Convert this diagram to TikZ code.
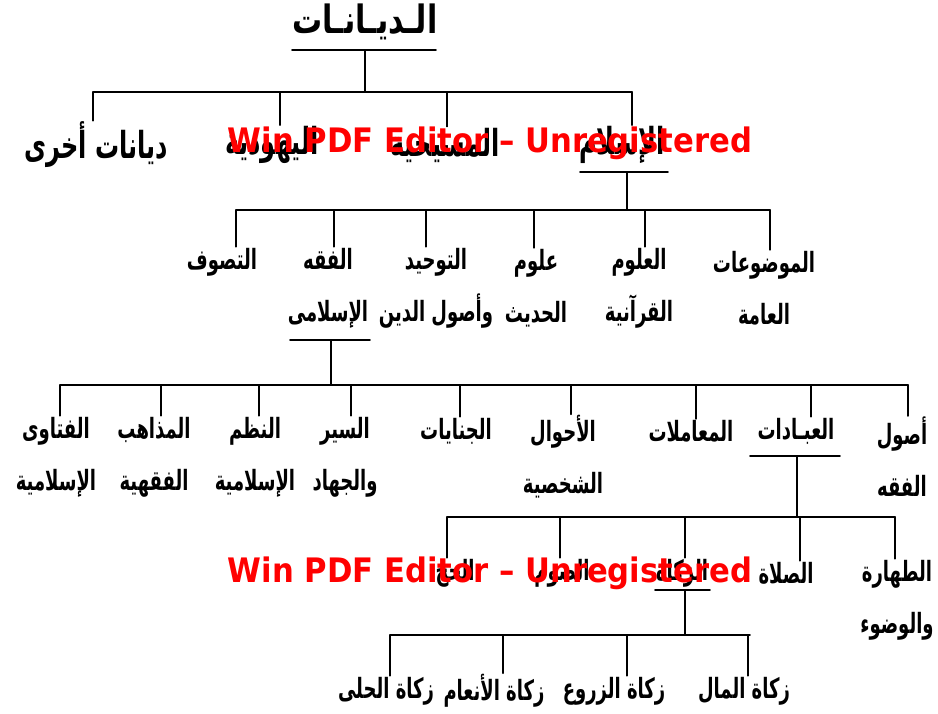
\documentclass[tikz,border=0pt]{standalone}
\usepackage{fontspec}
\newfontfamily\arabicfont[Script=Arabic]{DejaVu Sans}
\newfontfamily\wmfont{DejaVu Sans}
\TeXXeTstate=1
\newcommand\artx[1]{\scalebox{1}[1.55]{\beginR #1\endR}}
\begin{document}
\begin{tikzpicture}[x=1pt,y=-1pt,
  lab/.style={font=\arabicfont\bfseries\fontsize{18}{52}\selectfont, inner sep=1pt, align=center},
  lab1/.style={font=\arabicfont\bfseries\fontsize{24}{30}\selectfont, inner sep=1pt},
  ttl/.style={font=\arabicfont\bfseries\fontsize{30}{36}\selectfont, inner sep=1pt},
  ln/.style={line width=1.6pt, line cap=round},
  wm/.style={text=red, font=\wmfont\bfseries\fontsize{27}{30}\selectfont, inner sep=0pt}]
\useasboundingbox (0,0) rectangle (938,713);

% level 0
\node[ttl] (root) at (365,22) {\scalebox{1}[1.3]{\beginR الـديـانـات\endR}};
\coordinate (r1) at (292,50); \coordinate (r2) at (436,50);
\coordinate (rm) at (365,50); \coordinate (rb) at (365,92);
\coordinate (b0l) at (93,92); \coordinate (b0r) at (632,92);
\draw[ln] (r1) -- (r2);
\draw[ln] (rm) -- (rb);
\draw[ln] (b0l) -- (b0r);

% level 1
\node[lab1] (other) at (96,145) {\artx{ديانات أخرى}};
\node[lab1] (yahud) at (272,145) {\artx{اليهودية}};
\node[lab1] (masih) at (445,145) {\artx{المسيحية}};
\node[lab1] (islam) at (622,145) {\artx{الإسلام}};
\foreach \xx/\nn in {93/other,280/yahud,447/masih,632/islam}
  \draw[ln] (\xx,92) -- (\xx,0 |- \nn.north);

\coordinate (i1) at (580,172); \coordinate (i2) at (668,172);
\coordinate (im) at (627,172); \coordinate (ib) at (627,210);
\draw[ln] (i1) -- (i2);
\draw[ln] (im) -- (ib);
\coordinate (b1l) at (236,210); \coordinate (b1r) at (770,210);
\draw[ln] (b1l) -- (b1r);

% level 2
\node[lab] (mawd) at (764,288) {\artx{الموضوعات}\\\artx{العامة}};
\node[lab] (qur) at (639,288) {\artx{العلوم}\\\artx{القرآنية}};
\node[lab] (had) at (536,288) {\artx{علوم}\\\artx{الحديث}};
\node[lab] (taw) at (436,288) {\artx{التوحيد}\\\artx{وأصول الدين}};
\node[lab] (fiqh) at (328,288) {\artx{الفقه}\\\artx{الإسلامى}};
\node[lab] (tas) at (222,262) {\artx{التصوف}};
\foreach \xx/\nn in {770/mawd,645/qur,534/had,426/taw,334/fiqh,236/tas}
  \draw[ln] (\xx,210) -- (\xx,0 |- \nn.north);

\coordinate (f1) at (290,340); \coordinate (f2) at (370,340);
\coordinate (fm) at (331,340); \coordinate (fb) at (331,385);
\draw[ln] (f1) -- (f2);
\draw[ln] (fm) -- (fb);
\coordinate (b2l) at (60,385); \coordinate (b2r) at (908,385);
\draw[ln] (b2l) -- (b2r);

% level 3
\node[lab] (usul) at (902,457) {\artx{أصول}\\\artx{الفقه}};
\node[lab] (ibad) at (796,431) {\artx{العبـادات}};
\node[lab] (muam) at (691,431) {\artx{المعاملات}};
\node[lab] (ahwal) at (563,457) {\artx{الأحوال}\\\artx{الشخصية}};
\node[lab] (jin) at (456,431) {\artx{الجنايات}};
\node[lab] (siyar) at (345,457) {\artx{السير}\\\artx{والجهاد}};
\node[lab] (nuzum) at (255,457) {\artx{النظم}\\\artx{الإسلامية}};
\node[lab] (madh) at (154,457) {\artx{المذاهب}\\\artx{الفقهية}};
\node[lab] (fat) at (56,457) {\artx{الفتاوى}\\\artx{الإسلامية}};
\foreach \xx/\nn in {908/usul,811/ibad,696/muam,571/ahwal,460/jin,351/siyar,259/nuzum,161/madh,60/fat}
  \draw[ln] (\xx,385) -- (\xx,0 |- \nn.north);

\coordinate (a1) at (750,456); \coordinate (a2) at (840,456);
\coordinate (am) at (797,456); \coordinate (ab) at (797,517);
\draw[ln] (a1) -- (a2);
\draw[ln] (am) -- (ab);
\coordinate (b3l) at (447,517); \coordinate (b3r) at (895,517);
\draw[ln] (b3l) -- (b3r);

% level 4
\node[lab] (tah) at (897,600) {\artx{الطهارة}\\\artx{والوضوء}};
\node[lab] (sal) at (786,573) {\artx{الصلاة}};
\node[lab] (zak) at (682,573) {\artx{الزكاة}};
\node[lab] (sawm) at (562,573) {\artx{الصوم}};
\node[lab] (hajj) at (455,573) {\artx{الحج}};
\foreach \xx/\nn in {895/tah,800/sal,685/zak,560/sawm,447/hajj}
  \draw[ln] (\xx,517) -- (\xx,0 |- \nn.north);

\coordinate (z1) at (655,590); \coordinate (z2) at (710,590);
\coordinate (zm) at (685,590); \coordinate (zb) at (685,635);
\draw[ln] (z1) -- (z2);
\draw[ln] (zm) -- (zb);
\coordinate (b4l) at (390,635); \coordinate (b4r) at (750,635);
\draw[ln] (b4l) -- (b4r);

% level 5
\node[lab] (mal) at (744,691) {\artx{زكاة المال}};
\node[lab] (zuru) at (614,691) {\artx{زكاة الزروع}};
\node[lab] (anam) at (494,691) {\artx{زكاة الأنعام}};
\node[lab] (huli) at (386,691) {\artx{زكاة الحلى}};
\foreach \xx/\nn in {748/mal,627/zuru,503/anam,390/huli}
  \draw[ln] (\xx,635) -- (\xx,0 |- \nn.north);

% watermarks
\node[wm] (wm1) at (490,143) {\scalebox{1}[1.1]{\resizebox{524pt}{!}{Win PDF Editor – Unregistered}}};
\node[wm] (wm2) at (490,573) {\scalebox{1}[1.1]{\resizebox{524pt}{!}{Win PDF Editor – Unregistered}}};
\end{tikzpicture}
\end{document}
